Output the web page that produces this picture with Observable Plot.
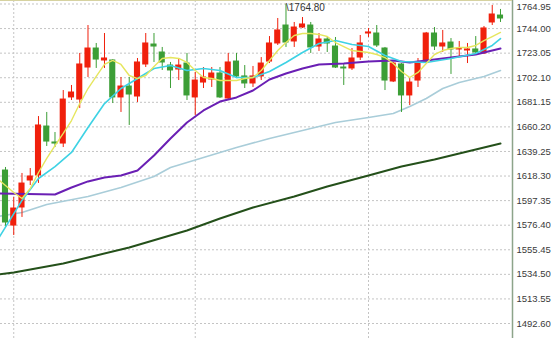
<!DOCTYPE html>
<html><head><meta charset="utf-8">
<script src="https://cdn.jsdelivr.net/npm/d3@7"></script>
<script src="https://cdn.jsdelivr.net/npm/@observablehq/plot@0.6"></script>
<style>html,body{margin:0;padding:0;background:#fff;overflow:hidden}</style>
</head><body><div id="chart"></div>
<script>
// Daily candles (index 0..60), prices
const opens  = [1623.0,1576.1,1591.5,1614.5,1618.8,1660.5,1646.9,1646.0,1685.3,1683.5,1710.8,1727.0,1716.8,1716.8,1685.3,1694.6,1686.1,1713.4,1730.4,1723.6,1712.5,1709.1,1714.2,1685.3,1698.0,1700.6,1705.7,1684.4,1715.9,1703.2,1697.2,1703.2,1715.9,1731.3,1746.6,1733.0,1744.9,1746.6,1728.7,1734.7,1728.7,1710.8,1710.0,1719.3,1739.8,1739.8,1727.0,1698.9,1713.4,1687.0,1699.7,1715.1,1739.8,1728.7,1732.1,1726.2,1725.3,1726.2,1722.8,1749.2,1755.1];
const highs  = [1625.6,1600.0,1620.5,1624.7,1669.0,1672.5,1655.4,1691.2,1695.5,1722.8,1746.6,1731.3,1739.8,1717.6,1702.3,1702.3,1718.5,1739.8,1739.8,1727.9,1715.1,1718.5,1722.8,1706.6,1710.8,1710.8,1710.8,1722.8,1722.8,1712.5,1711.7,1719.3,1737.2,1752.6,1764.8,1749.2,1753.4,1749.2,1739.8,1736.4,1736.4,1714.2,1727.0,1738.1,1744.1,1746.6,1727.9,1715.1,1714.2,1701.4,1718.5,1740.7,1744.9,1742.4,1735.5,1733.0,1731.3,1737.2,1745.8,1763.7,1760.3];
const lows   = [1574.4,1567.6,1583.0,1610.2,1612.0,1643.5,1642.6,1642.6,1682.7,1675.9,1702.3,1710.0,1710.0,1680.1,1672.5,1661.4,1681.0,1710.8,1715.1,1708.3,1692.9,1699.7,1682.7,1669.9,1692.9,1693.8,1684.4,1682.7,1701.4,1692.9,1693.8,1699.7,1714.2,1729.6,1727.9,1727.9,1744.1,1722.8,1724.5,1723.6,1710.0,1695.5,1708.3,1716.8,1736.4,1727.9,1691.2,1698.0,1672.5,1678.4,1693.8,1714.2,1725.3,1723.6,1704.9,1719.3,1714.2,1722.8,1721.9,1746.6,1749.2];
const closes = [1578.7,1590.6,1611.9,1617.9,1661.4,1647.7,1646.0,1683.5,1689.5,1713.4,1727.0,1717.6,1718.5,1685.3,1694.6,1687.8,1715.1,1731.3,1728.7,1715.1,1708.3,1712.5,1687.0,1699.7,1702.3,1705.7,1685.3,1715.1,1703.2,1697.2,1703.2,1714.2,1731.3,1742.4,1732.1,1744.9,1747.5,1727.9,1734.7,1731.3,1710.8,1710.0,1718.5,1731.3,1740.7,1729.6,1699.7,1714.2,1687.0,1698.0,1714.2,1739.8,1728.7,1731.3,1726.2,1727.0,1726.2,1723.6,1744.1,1756.0,1752.6];

// Moving averages: [candle index, value]
const ma5 = [[-1,1616.2],[1,1604.3],[2,1599.2],[3,1607.7],[4,1621.3],[5,1633.3],[6,1644.3],[7,1654.6],[8,1665.6],[9,1680.1],[10,1692.9],[11,1703.2],[12,1713.4],[13,1716.8],[14,1713.4],[15,1704.0],[16,1701.4],[17,1704.0],[18,1711.7],[19,1718.5],[20,1719.3],[21,1718.5],[22,1715.1],[23,1708.3],[24,1702.3],[25,1701.4],[26,1699.7],[27,1699.7],[28,1699.7],[29,1701.4],[30,1702.3],[31,1708.3],[32,1716.8],[33,1725.3],[34,1732.1],[35,1738.1],[36,1739.8],[37,1739.8],[38,1739.0],[39,1737.2],[40,1732.1],[41,1728.7],[42,1725.3],[43,1724.5],[44,1723.6],[45,1721.9],[46,1719.3],[47,1714.2],[48,1707.4],[49,1702.3],[50,1706.6],[51,1714.2],[52,1721.9],[53,1725.3],[54,1727.0],[55,1727.9],[56,1727.9],[57,1729.6],[58,1733.8],[59,1737.2],[60,1740.7]];
const ma10 = [[-1,1563.4],[2,1597.5],[4,1616.2],[6,1626.4],[8,1638.4],[10,1659.7],[12,1680.1],[14,1692.9],[16,1701.4],[18,1710.0],[20,1712.5],[22,1708.3],[24,1710.0],[26,1708.3],[28,1702.3],[30,1702.3],[32,1707.4],[34,1715.1],[36,1723.6],[38,1731.3],[40,1733.8],[42,1730.4],[44,1728.7],[46,1721.1],[48,1715.9],[51,1715.1],[54,1718.5],[57,1722.8],[59,1729.6],[60,1735.5]];
const ma20 = [[-1,1603.4],[6,1602.6],[8,1608.5],[10,1613.7],[12,1617.1],[14,1618.8],[16,1623.0],[18,1635.8],[20,1650.3],[22,1663.9],[24,1674.2],[26,1681.8],[28,1685.3],[30,1691.2],[32,1700.6],[34,1705.7],[36,1710.0],[38,1713.4],[41,1714.2],[44,1715.9],[47,1716.8],[49,1715.1],[51,1716.8],[54,1719.3],[57,1721.9],[60,1727.0]];
const ma60 = [[-1,1583.8],[2,1587.2],[5,1594.0],[10,1600.9],[14,1608.5],[18,1617.9],[20,1625.6],[24,1634.1],[28,1642.6],[32,1650.3],[36,1657.1],[40,1663.9],[44,1668.2],[47,1671.6],[49,1677.6],[51,1684.4],[53,1692.9],[55,1698.0],[58,1703.2],[60,1708.3]];
const ma250 = [[-1,1534.4],[1,1536.1],[3,1538.6],[7,1543.7],[11,1550.6],[15,1557.4],[22,1571.9],[26,1582.1],[30,1591.5],[35,1600.9],[39,1609.4],[44,1618.8],[48,1626.4],[52,1632.4],[56,1639.2],[60,1646.0]];

const yTicks = [1764.95,1744.00,1723.05,1702.10,1681.15,1660.20,1639.25,1618.30,1597.35,1576.40,1555.45,1534.50,1513.55,1492.60];
const vGrid = [1, 23, 44];
const peak = {i: 34, value: 1764.80, label: "1764.80"};

const RED = "#f0200c", GREEN = "#3c9e36";
const candles = opens.map((o, i) => ({i, open: o, high: highs[i], low: lows[i], close: closes[i], color: closes[i] >= o ? RED : GREEN}));
const pts = a => a.map(([i, v]) => ({i, v}));

const xDom = [-0.606, 61.455];
const yDom = [1479.82, 1767.93];
const labelStyle = {frameAnchor: "right", dx: 4, textAnchor: "start", fontSize: 9.5, fill: "#3a3a3a", fontFamily: "Liberation Sans, sans-serif"};

const chart = Plot.plot({
  width: 554, height: 338,
  marginTop: 0, marginBottom: 0, marginLeft: 0, marginRight: 42,
  x: {domain: xDom, axis: null},
  y: {domain: yDom, axis: null},
  style: {background: "#fff"},
  marks: [
    Plot.ruleY(yTicks, {stroke: "#c4c4c4", strokeDasharray: "2,2"}),
    Plot.ruleX(vGrid, {stroke: "#c4c4c4", strokeDasharray: "2,2"}),
    Plot.line(pts(ma250), {x: "i", y: "v", stroke: "#24501a", strokeWidth: 2, clip: true}),
    Plot.line(pts(ma60), {x: "i", y: "v", stroke: "#a9cdd9", strokeWidth: 1.6, clip: true}),
    Plot.ruleX(candles, {x: "i", y1: "low", y2: "high", stroke: "color"}),
    Plot.rect(candles, {x1: d => d.i - 0.37, x2: d => d.i + 0.37, y1: "open", y2: "close", fill: "color", insetTop: -0.5, insetBottom: -0.5}),
    Plot.line(pts(ma20), {x: "i", y: "v", stroke: "#6a1fb4", strokeWidth: 2, clip: true}),
    Plot.line(pts(ma10), {x: "i", y: "v", stroke: "#3ed2e4", strokeWidth: 1.6, clip: true}),
    Plot.line(pts(ma5), {x: "i", y: "v", stroke: "#e6e65e", strokeWidth: 1.4, clip: true}),
    Plot.text([peak], {x: "i", y: "value", text: d => "\\" + d.label, textAnchor: "start", dx: 0, dy: 4, fontSize: 10, fill: "#333", fontFamily: "Liberation Sans, sans-serif"}),
    Plot.ruleX([xDom[1]], {stroke: "#8da48a", strokeWidth: 1.5}),
    Plot.ruleY([yDom[1]], {stroke: "#d6d2a0", strokeWidth: 1}),
    Plot.text(yTicks.slice(0, 1), {y: d => d, text: d => d.toFixed(2), ...labelStyle, dy: 3}),
    Plot.text(yTicks.slice(1), {y: d => d, text: d => d.toFixed(2), ...labelStyle})
  ]
});
document.getElementById("chart").appendChild(chart);
</script>
</body></html>
